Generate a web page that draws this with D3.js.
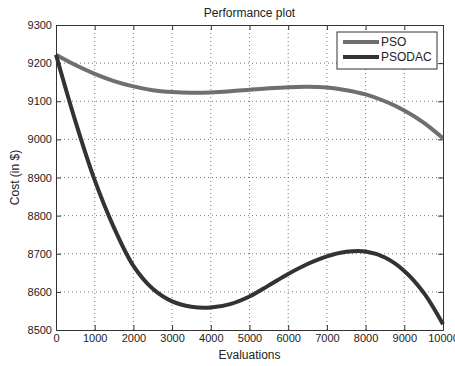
<!DOCTYPE html>
<html>
<head>
<meta http-equiv="Content-Type" content="text/html; charset=utf-8">
<script src="https://cdnjs.cloudflare.com/ajax/libs/d3/7.8.5/d3.min.js"></script>
<style>
  body { margin: 0; background: #fff; }
  text { font-family: "Liberation Sans", Arial, sans-serif; fill: #222; }
</style>
</head>
<body>
<div id="chart"></div>
<script type="text/javascript">

// ---------------- data
var evaluations = [0, 500, 1000, 1500, 2000, 2500, 3000, 3500, 4000, 4500, 5000,
                   5500, 6000, 6500, 7000, 7500, 8000, 8500, 9000, 9500, 10000];
var pso    = [9222, 9195, 9172, 9153, 9139, 9129, 9124, 9122, 9123, 9126, 9130,
              9134, 9137, 9138, 9136, 9129, 9118, 9100, 9076, 9044, 9003];
var psodac = [9222, 9048, 8893, 8768, 8668, 8608, 8575, 8561, 8559, 8568, 8588,
              8617, 8647, 8673, 8693, 8705, 8706, 8690, 8655, 8598, 8515];
var xTicks = [0, 1000, 2000, 3000, 4000, 5000, 6000, 7000, 8000, 9000, 10000];
var yTicks = [8500, 8600, 8700, 8800, 8900, 9000, 9100, 9200, 9300];
var seriesNames = ["PSO", "PSODAC"];
var seriesColors = ["#6f6f6f", "#333333"];

// ---------------- svg
var width = 455, height = 366;
var margin = {left: 56, right: 12, top: 25, bottom: 36};
var w = width - margin.left - margin.right;
var h = height - margin.top - margin.bottom;

var svg = d3.select("#chart").append("svg")
  .attr("width", width)
  .attr("height", height);

var g = svg.append("g")
  .attr("transform", "translate(" + margin.left + "," + margin.top + ")");

var x = d3.scaleLinear().domain([0, 10000]).range([0, w]);
var y = d3.scaleLinear().domain([8500, 9300]).range([h, 0]);

// grid
g.append("g").selectAll("line").data(xTicks.slice(1, -1)).enter().append("line")
  .attr("x1", d => x(d)).attr("x2", d => x(d))
  .attr("y1", 0).attr("y2", h)
  .attr("stroke", "#555").attr("stroke-width", 0.8).attr("stroke-dasharray", "1,3");
g.append("g").selectAll("line").data(yTicks.slice(1, -1)).enter().append("line")
  .attr("y1", d => y(d)).attr("y2", d => y(d))
  .attr("x1", 0).attr("x2", w)
  .attr("stroke", "#555").attr("stroke-width", 0.8).attr("stroke-dasharray", "1,3");

// lines
var line = d3.line()
  .x((d, i) => x(evaluations[i]))
  .y(d => y(d))
  .curve(d3.curveCatmullRom);

[pso, psodac].forEach(function(s, k) {
  g.append("path").datum(s)
    .attr("d", line)
    .attr("fill", "none")
    .attr("stroke", seriesColors[k])
    .attr("stroke-width", 4);
});

// axes (MATLAB style, ticks inward on all sides)
var xAxis = g.append("g").attr("transform", "translate(0," + h + ")")
  .call(d3.axisBottom(x).tickValues(xTicks).tickSize(-5).tickPadding(4).tickFormat(d3.format("d")));
var xTop = g.append("g")
  .call(d3.axisTop(x).tickValues(xTicks).tickSize(-5).tickFormat(""));
var yAxis = g.append("g")
  .call(d3.axisLeft(y).tickValues(yTicks).tickSize(-5).tickPadding(4).tickFormat(d3.format("d")));
var yRight = g.append("g").attr("transform", "translate(" + w + ",0)")
  .call(d3.axisRight(y).tickValues(yTicks).tickSize(-5).tickFormat(""));

[xAxis, xTop, yAxis, yRight].forEach(function(a) {
  a.select(".domain").attr("stroke", "#333");
  a.selectAll(".tick line").attr("stroke", "#333");
  a.selectAll("text").style("font-size", "11px").attr("fill", "#222")
    .style("font-family", "'Liberation Sans', Arial, sans-serif");
});

// legend
var legend = g.append("g").attr("transform", "translate(" + (337 - margin.left) + "," + (32 - margin.top) + ")");
legend.append("rect").attr("width", 100).attr("height", 37)
  .attr("fill", "#fff").attr("stroke", "#333").attr("stroke-width", 1);
seriesNames.forEach(function(n, k) {
  legend.append("line")
    .attr("x1", 6).attr("x2", 42)
    .attr("y1", 10 + k * 15).attr("y2", 10 + k * 15)
    .attr("stroke", seriesColors[k]).attr("stroke-width", 4);
  legend.append("text").attr("x", 44).attr("y", 14 + k * 15)
    .style("font-size", "12px").text(n);
});

// titles
svg.append("text").attr("x", margin.left + w / 2).attr("y", 17)
  .attr("text-anchor", "middle").style("font-size", "12px").text("Performance plot");
svg.append("text").attr("x", margin.left + w / 2).attr("y", 359)
  .attr("text-anchor", "middle").style("font-size", "12px").text("Evaluations");
svg.append("text")
  .attr("transform", "translate(19," + (margin.top + h / 2) + ") rotate(-90)")
  .attr("text-anchor", "middle").style("font-size", "12px").text("Cost (in $)");

</script>
</body>
</html>
